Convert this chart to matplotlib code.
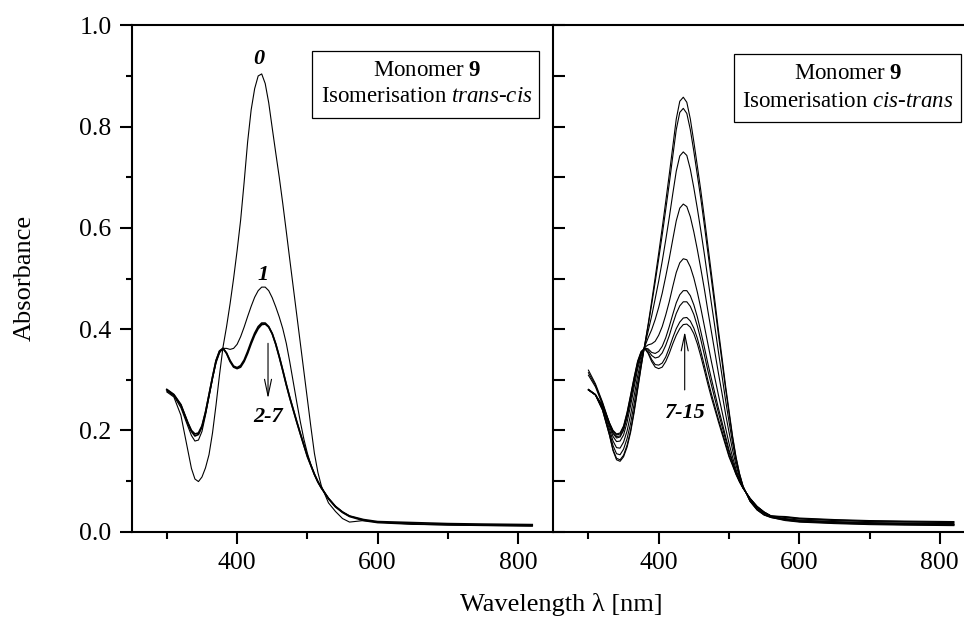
import matplotlib
matplotlib.use("Agg")
import matplotlib.pyplot as plt
from matplotlib.patches import Rectangle
from matplotlib.ticker import MultipleLocator

plt.rcParams['font.family'] = ['Liberation Serif', 'DejaVu Serif']
plt.rcParams['mathtext.fontset'] = 'custom'
plt.rcParams['mathtext.rm'] = 'Liberation Serif'
plt.rcParams['mathtext.it'] = 'Liberation Serif:italic'
plt.rcParams['mathtext.bf'] = 'Liberation Serif:bold'

# wavelength grid (nm)
wavelength = [300, 310, 320, 330, 335, 340, 345, 350, 355, 360, 365, 370, 375, 380,
              385, 390, 395, 400, 405, 410, 415, 420, 425, 430, 435, 440, 445, 450,
              455, 460, 465, 470, 475, 480, 485, 490, 495, 500, 505, 510, 515, 520,
              530, 540, 550, 560, 580, 600, 650, 700, 750, 820]

# trans -> cis (left panel)
spec_0 = [0.276, 0.266, 0.230, 0.160, 0.125, 0.104, 0.099, 0.108, 0.126, 0.152, 0.195, 0.250, 0.310, 0.365,
          0.405, 0.450, 0.500, 0.555, 0.615, 0.690, 0.770, 0.833, 0.875, 0.900, 0.904, 0.885, 0.847, 0.797,
          0.748, 0.700, 0.648, 0.593, 0.537, 0.482, 0.427, 0.372, 0.317, 0.262, 0.207, 0.155, 0.117, 0.090,
          0.057, 0.040, 0.026, 0.019, 0.022, 0.019, 0.015, 0.013, 0.012, 0.011]
spec_1 = [0.278, 0.268, 0.245, 0.208, 0.190, 0.179, 0.181, 0.198, 0.230, 0.266, 0.302, 0.333, 0.353, 0.362,
          0.362, 0.360, 0.362, 0.370, 0.385, 0.404, 0.425, 0.445, 0.463, 0.476, 0.483, 0.483, 0.476, 0.462,
          0.444, 0.424, 0.401, 0.372, 0.335, 0.295, 0.255, 0.217, 0.183, 0.155, 0.132, 0.113, 0.098, 0.086,
          0.066, 0.050, 0.039, 0.031, 0.023, 0.019, 0.016, 0.014, 0.013, 0.012]
spec_2 = [0.281, 0.271, 0.251, 0.214, 0.198, 0.189, 0.192, 0.207, 0.235, 0.270, 0.305, 0.338, 0.357, 0.362,
          0.353, 0.338, 0.327, 0.324, 0.328, 0.339, 0.356, 0.375, 0.392, 0.405, 0.412, 0.412, 0.405, 0.391,
          0.370, 0.345, 0.318, 0.290, 0.264, 0.240, 0.216, 0.193, 0.171, 0.150, 0.131, 0.114, 0.099, 0.087,
          0.065, 0.049, 0.038, 0.030, 0.022, 0.018, 0.015, 0.014, 0.013, 0.012]
spec_7 = [0.280, 0.270, 0.250, 0.215, 0.200, 0.193, 0.195, 0.209, 0.236, 0.270, 0.305, 0.337, 0.356, 0.362,
          0.352, 0.336, 0.325, 0.322, 0.325, 0.336, 0.352, 0.371, 0.388, 0.401, 0.409, 0.410, 0.404, 0.391,
          0.371, 0.346, 0.319, 0.291, 0.265, 0.241, 0.217, 0.194, 0.171, 0.148, 0.131, 0.113, 0.098, 0.086,
          0.066, 0.050, 0.039, 0.031, 0.024, 0.020, 0.018, 0.016, 0.015, 0.014]

# cis -> trans (right panel), spectra 8..15
spec_8 = [0.319, 0.292, 0.256, 0.214, 0.199, 0.191, 0.193, 0.207, 0.234, 0.268, 0.303, 0.335, 0.355, 0.362,
          0.354, 0.340, 0.330, 0.329, 0.333, 0.345, 0.363, 0.383, 0.401, 0.414, 0.422, 0.423, 0.416, 0.402,
          0.382, 0.356, 0.328, 0.299, 0.272, 0.247, 0.222, 0.199, 0.175, 0.151, 0.133, 0.114, 0.099, 0.086,
          0.066, 0.050, 0.039, 0.031, 0.030, 0.027, 0.024, 0.022, 0.021, 0.020]
spec_9 = [0.314, 0.289, 0.254, 0.213, 0.196, 0.188, 0.189, 0.203, 0.229, 0.263, 0.298, 0.331, 0.353, 0.363,
          0.358, 0.348, 0.343, 0.345, 0.353, 0.368, 0.387, 0.410, 0.431, 0.446, 0.454, 0.454, 0.445, 0.429,
          0.406, 0.379, 0.349, 0.318, 0.290, 0.262, 0.235, 0.209, 0.183, 0.157, 0.137, 0.117, 0.100, 0.086,
          0.065, 0.049, 0.038, 0.031, 0.029, 0.026, 0.023, 0.021, 0.020, 0.019]
spec_10 = [0.309, 0.286, 0.251, 0.211, 0.194, 0.185, 0.187, 0.200, 0.226, 0.259, 0.294, 0.328, 0.351, 0.363,
           0.361, 0.354, 0.352, 0.356, 0.366, 0.383, 0.405, 0.429, 0.452, 0.468, 0.476, 0.476, 0.466, 0.448,
           0.424, 0.395, 0.364, 0.332, 0.302, 0.273, 0.244, 0.217, 0.189, 0.162, 0.140, 0.118, 0.101, 0.087,
           0.065, 0.049, 0.038, 0.031, 0.028, 0.025, 0.022, 0.020, 0.019, 0.018]
spec_11 = [0.281, 0.271, 0.247, 0.208, 0.188, 0.178, 0.179, 0.191, 0.216, 0.249, 0.285, 0.321, 0.347, 0.364,
           0.369, 0.371, 0.376, 0.388, 0.405, 0.428, 0.454, 0.484, 0.512, 0.531, 0.539, 0.537, 0.523, 0.501,
           0.473, 0.441, 0.406, 0.371, 0.336, 0.303, 0.270, 0.238, 0.206, 0.175, 0.148, 0.123, 0.103, 0.087,
           0.064, 0.048, 0.037, 0.030, 0.026, 0.023, 0.020, 0.018, 0.017, 0.016]
spec_12 = [0.281, 0.271, 0.245, 0.202, 0.179, 0.166, 0.165, 0.177, 0.199, 0.231, 0.268, 0.307, 0.340, 0.365,
           0.383, 0.399, 0.419, 0.443, 0.471, 0.504, 0.539, 0.577, 0.614, 0.639, 0.647, 0.642, 0.622, 0.592,
           0.557, 0.519, 0.479, 0.436, 0.395, 0.354, 0.313, 0.274, 0.234, 0.197, 0.162, 0.132, 0.107, 0.088,
           0.063, 0.046, 0.036, 0.029, 0.025, 0.022, 0.019, 0.017, 0.016, 0.015]
spec_13 = [0.280, 0.270, 0.242, 0.196, 0.170, 0.154, 0.152, 0.163, 0.184, 0.214, 0.252, 0.294, 0.332, 0.367,
           0.396, 0.426, 0.460, 0.495, 0.534, 0.576, 0.620, 0.667, 0.712, 0.742, 0.750, 0.743, 0.716, 0.679,
           0.638, 0.594, 0.548, 0.499, 0.451, 0.404, 0.355, 0.309, 0.261, 0.218, 0.176, 0.140, 0.111, 0.089,
           0.061, 0.045, 0.034, 0.029, 0.024, 0.021, 0.018, 0.016, 0.015, 0.014]
spec_14 = [0.280, 0.270, 0.241, 0.191, 0.162, 0.145, 0.142, 0.151, 0.171, 0.200, 0.239, 0.283, 0.327, 0.368,
           0.407, 0.449, 0.493, 0.539, 0.586, 0.636, 0.687, 0.741, 0.794, 0.828, 0.836, 0.826, 0.794, 0.751,
           0.704, 0.657, 0.605, 0.551, 0.498, 0.444, 0.389, 0.337, 0.284, 0.235, 0.187, 0.146, 0.114, 0.090,
           0.060, 0.043, 0.033, 0.028, 0.023, 0.020, 0.017, 0.015, 0.014, 0.013]
spec_15 = [0.280, 0.270, 0.240, 0.190, 0.160, 0.142, 0.139, 0.148, 0.167, 0.196, 0.235, 0.280, 0.325, 0.368,
           0.410, 0.455, 0.502, 0.550, 0.600, 0.652, 0.705, 0.760, 0.815, 0.850, 0.858, 0.848, 0.815, 0.770,
           0.722, 0.673, 0.620, 0.565, 0.510, 0.455, 0.398, 0.345, 0.290, 0.240, 0.190, 0.148, 0.115, 0.090,
           0.060, 0.043, 0.033, 0.028, 0.022, 0.019, 0.016, 0.014, 0.013, 0.012]

trans_cis = [spec_0, spec_1, spec_2, spec_7]
cis_trans = [spec_7, spec_8, spec_9, spec_10, spec_11, spec_12, spec_13, spec_14, spec_15]

W, H = 964, 619
fig = plt.figure(figsize=(W / 100, H / 100), dpi=100)
# right panel runs past the image edge, as in the original scan
ax1 = fig.add_axes([131.7 / W, 87.3 / H, 421.6 / W, 506.4 / H])
ax2 = fig.add_axes([553.3 / W, 87.3 / H, 421.6 / W, 506.4 / H])

for s in trans_cis:
    lw = 1.2 if s in (spec_2, spec_7) else 0.8
    ax1.plot(wavelength, s, color='black', lw=lw)
for s in cis_trans:
    ax2.plot(wavelength, s, color='black', lw=0.8)

for ax in (ax1, ax2):
    ax.set_xlim(250, 850)
    ax.set_ylim(0, 1.0)
    ax.xaxis.set_major_locator(MultipleLocator(200))
    ax.xaxis.set_minor_locator(MultipleLocator(100))
    ax.yaxis.set_major_locator(MultipleLocator(0.2))
    ax.yaxis.set_minor_locator(MultipleLocator(0.1))
    for sp in ax.spines.values():
        sp.set_linewidth(1.5)
    ax.tick_params(axis='x', which='both', direction='out', top=False, width=1.5,
                   labelsize=18.5, pad=6)
    ax.tick_params(axis='x', which='major', length=8.4)
    ax.tick_params(axis='x', which='minor', length=4.8)

ax1.spines['right'].set_visible(False)
ax1.tick_params(axis='y', which='both', direction='out', right=False, width=1.5,
                labelsize=18.5, pad=6)
ax1.tick_params(axis='y', which='major', length=8.4)
ax1.tick_params(axis='y', which='minor', length=4.5)
ax2.tick_params(axis='y', which='both', direction='in', right=False, labelleft=False,
                width=1.5, length=8.5)

fig.text(25 / W, 1 - 278 / H, 'Absorbance', rotation=90, ha='center', va='center', fontsize=19)
fig.text(561 / W, 1 - 605 / H, 'Wavelength λ [nm]', ha='center', va='center', fontsize=19)

# info boxes
ax1.add_patch(Rectangle((0.428, 0.817), 0.538, 0.132, transform=ax1.transAxes,
                        fill=False, lw=0.9, color='black'))
ax1.text(0.700, 0.910, r'Monomer $\mathbf{9}$', transform=ax1.transAxes,
         ha='center', va='center', fontsize=16.5)
ax1.text(0.700, 0.859, r'Isomerisation $\mathit{trans}$-$\mathit{cis}$', transform=ax1.transAxes,
         ha='center', va='center', fontsize=16.5)
ax2.add_patch(Rectangle((0.4286, 0.809), 0.538, 0.134, transform=ax2.transAxes,
                        fill=False, lw=0.9, color='black'))
ax2.text(0.699, 0.904, r'Monomer $\mathbf{9}$', transform=ax2.transAxes,
         ha='center', va='center', fontsize=16.5)
ax2.text(0.699, 0.850, r'Isomerisation $\mathit{cis}$-$\mathit{trans}$', transform=ax2.transAxes,
         ha='center', va='center', fontsize=16.5)

# curve labels and arrows
lab = dict(ha='center', va='center', fontsize=16, fontweight='bold', style='italic')
ax1.text(431, 0.933, '0', **lab)
ax1.text(437, 0.507, '1', **lab)
ax1.text(444, 0.226, '2-7', **lab)
arrow = dict(arrowstyle='->,head_length=0.85,head_width=0.18', lw=0.8, color='black',
             shrinkA=0, shrinkB=0, mutation_scale=14)
ax1.annotate('', xy=(444, 0.263), xytext=(444, 0.372), arrowprops=arrow)
ax2.text(436, 0.234, '7-15', **lab)
ax2.annotate('', xy=(437, 0.395), xytext=(437, 0.280), arrowprops=arrow)

fig.savefig('out.png', dpi=100)
